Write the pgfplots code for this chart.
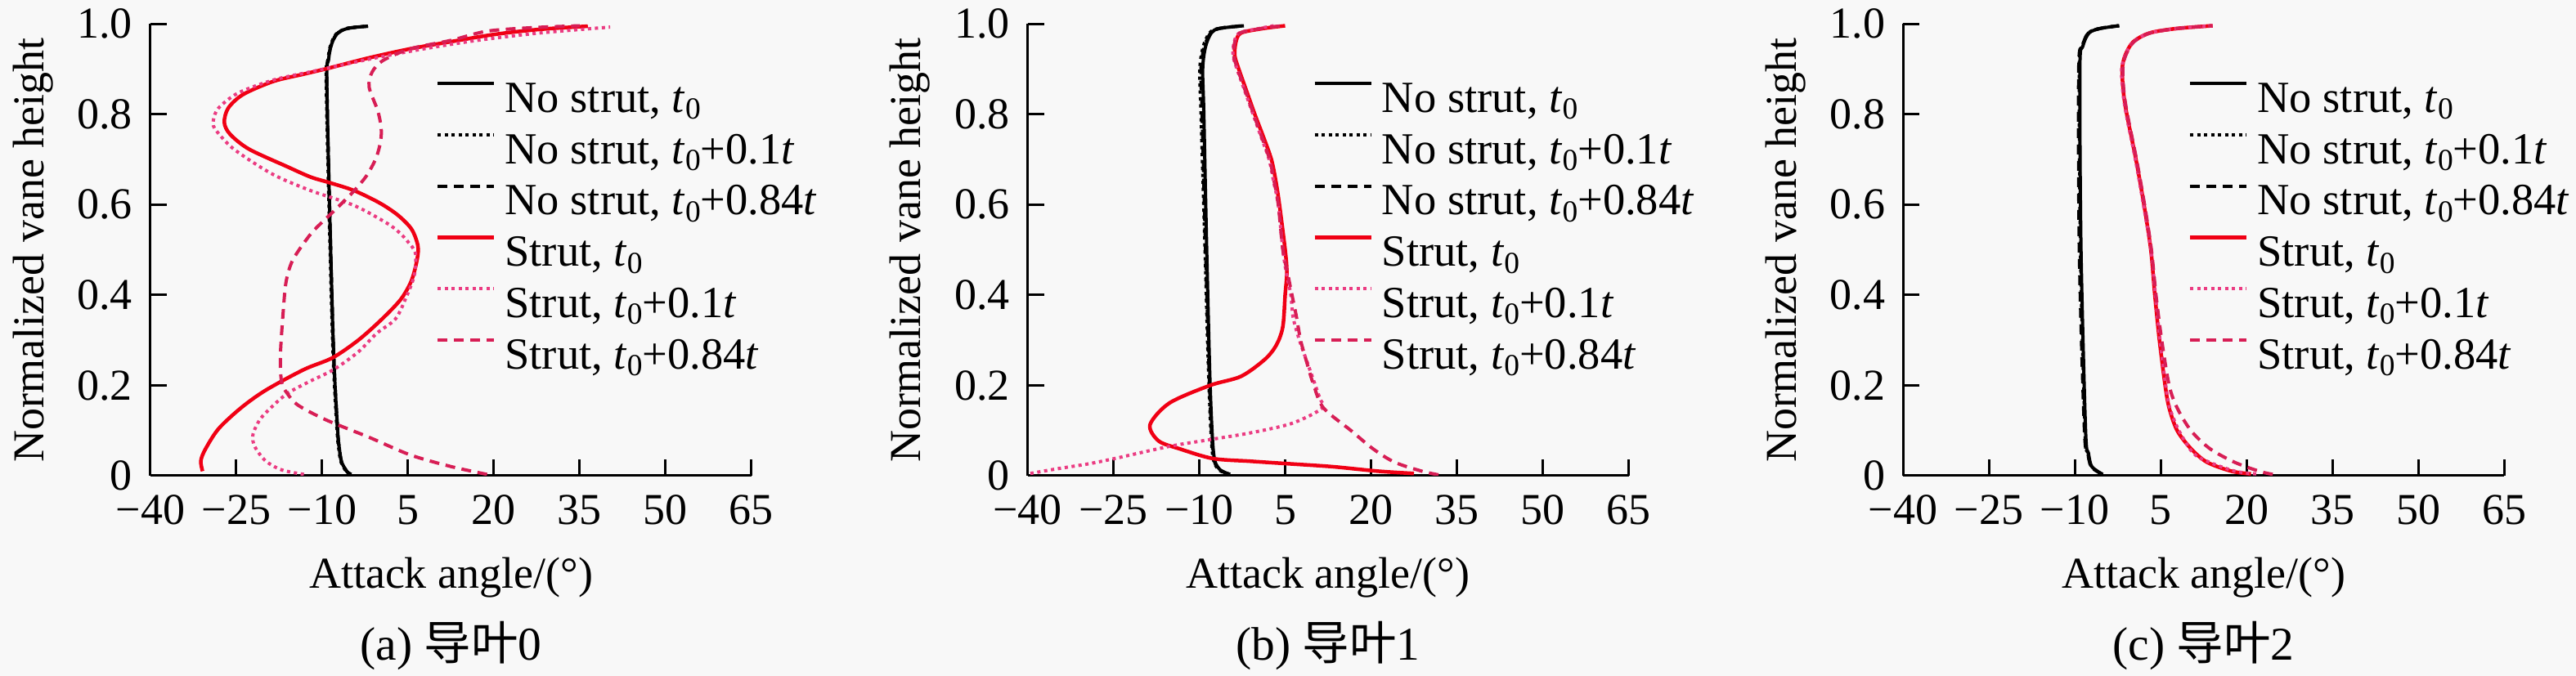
\documentclass[border=0pt]{standalone}
\usepackage{pgfplots}
\pgfplotsset{compat=1.18}
\usepackage{fontspec}
\setmainfont{Liberation Serif}
\newfontfamily\cjk{Noto Sans CJK SC}
\definecolor{bgc}{RGB}{248,248,248}
\definecolor{sred}{RGB}{240,0,20}
\definecolor{spink}{RGB}{235,60,130}
\definecolor{sdash}{RGB}{215,30,85}
\newcommand{\tz}{\textit{t}\raisebox{-1.7pt}{\fontsize{7.5}{8}\selectfont 0}}
\newcommand{\tzz}[1]{\tz+#1\textit{t}}
\pgfplotsset{
  vane/.style={
    scale only axis, width=147pt, height=110.54pt,
    xmin=-40, xmax=65, ymin=0, ymax=1,
    axis x line*=bottom, axis y line*=left,
    axis line style={-, line width=0.6pt, black},
    xtick={-40,-25,-10,5,20,35,50,65},
    ytick={0,0.2,0.4,0.6,0.8,1.0},
    xticklabels={−40,−25,−10,5,20,35,50,65},
    yticklabels={0,0.2,0.4,0.6,0.8,1.0},
    tick align=inside, major tick length=4pt,
    tick style={line width=0.6pt, black},
    tick label style={font=\fontsize{10.8}{12}\selectfont},
    xticklabel style={anchor=base, inner sep=0pt, yshift=-11.9pt},
    yticklabel style={anchor=east, inner sep=0pt, xshift=-4.2pt},
    every axis x label/.style={at={(axis description cs:0.5,-0.2497)}, anchor=base, font=\fontsize{10.8}{12}\selectfont},
    every axis y label/.style={at={(axis description cs:-0.1776,0.5)}, anchor=base, rotate=90, font=\fontsize{10.8}{12}\selectfont},
    every axis title/.style={at={(axis description cs:0.5,-0.4089)}, anchor=base, font=\fontsize{11.5}{13}\selectfont},
    xlabel={Attack angle/(°)},
    ylabel={Normalized vane height},
    legend style={draw=none, fill=none, inner sep=0pt, outer sep=0pt,
      at={(axis description cs:0.4748,0.877)}, anchor=north west,
      row sep=2pt, column sep=2.2pt,
      nodes={inner sep=0pt, text height=8pt, text depth=2.56pt, font=\fontsize{10.9}{12}\selectfont}},
    legend cell align=left,
    legend image code/.code={\draw[##1] (0pt,4.3pt) -- (13.8pt,4.3pt);},
    legend entries={{No strut, \tz},{No strut, \tzz{0.1}},{No strut, \tzz{0.84}},{Strut, \tz},{Strut, \tzz{0.1}},{Strut, \tzz{0.84}}},
  },
  ns0/.style={black, line width=0.8pt, smooth},
  ns1/.style={black, line width=0.8pt, smooth, dash pattern=on 0.8pt off 0.9pt},
  ns2/.style={black, line width=0.8pt, smooth, dash pattern=on 2.4pt off 1.6pt},
  s0/.style={sred, line width=0.9pt, smooth},
  s1/.style={spink, line width=0.8pt, smooth, dash pattern=on 0.8pt off 0.9pt},
  s2/.style={sdash, line width=0.8pt, smooth, dash pattern=on 2.4pt off 1.6pt},
}
\begin{document}
\begin{tikzpicture}
\useasboundingbox (0,0) rectangle (630pt,165.4pt);
\fill[bgc] (0,0) rectangle (630pt,165.4pt);
% ---------------- (a)
\begin{axis}[vane, at={(36.8pt,49pt)}, anchor=south west, title={(a) {\cjk 导叶}0}]
\addplot[ns0] coordinates {(-4.9,0.003) (-5.6,0.008) (-6.6,0.03) (-7.0,0.06) (-7.3,0.1) (-8.0,0.27) (-8.7,0.59) (-9.2,0.88) (-8.9,0.92) (-8.5,0.95) (-7.5,0.977) (-5.6,0.99) (-2.0,0.995)};
\addplot[ns1] coordinates {(-5.0,0.003) (-5.7,0.008) (-6.7,0.03) (-7.1,0.06) (-7.4,0.1) (-8.1,0.27) (-8.8,0.59) (-9.3,0.88) (-9.0,0.92) (-8.6,0.95) (-7.6,0.977) (-5.7,0.99) (-2.2,0.995)};
\addplot[ns2] coordinates {(-4.9,0.003) (-5.6,0.008) (-6.6,0.03) (-7.0,0.06) (-7.3,0.1) (-8.0,0.27) (-8.7,0.59) (-9.2,0.88) (-8.9,0.92) (-8.5,0.95) (-7.5,0.977) (-5.6,0.99) (-2.0,0.995)};
\addplot[s0] coordinates {(-30.9,0.01) (-31.2,0.033) (-30.4,0.059) (-28.1,0.104) (-24.2,0.15) (-19.9,0.189) (-13.2,0.235) (-8.2,0.261) (-3.7,0.30) (0.3,0.345) (3.7,0.39) (5.6,0.432) (6.6,0.48) (6.7,0.51) (5.6,0.546) (3.2,0.577) (0.0,0.604) (-4.4,0.631) (-8.8,0.649) (-12.0,0.661) (-16.1,0.684) (-22.8,0.723) (-26.1,0.756) (-27.1,0.782) (-26.4,0.814) (-23.8,0.844) (-18.5,0.873) (-13.2,0.889) (-8.9,0.902) (-1.8,0.925) (5.4,0.945) (12.6,0.961) (20.2,0.977) (28,0.988) (36.4,0.995)};
\addplot[s1] coordinates {(-13.2,0.003) (-17.1,0.013) (-19.9,0.033) (-21.8,0.065) (-22.1,0.091) (-20.9,0.124) (-19.0,0.15) (-16.1,0.182) (-12.3,0.208) (-8.0,0.235) (-3.7,0.274) (-0.5,0.315) (2.8,0.347) (4.7,0.396) (6.1,0.444) (6.3,0.492) (5.1,0.516) (3.5,0.538) (1.3,0.559) (-4.4,0.598) (-12.0,0.631) (-18.0,0.663) (-22.5,0.697) (-26.1,0.73) (-28.8,0.769) (-29.0,0.788) (-28.1,0.814) (-24.7,0.847) (-18.5,0.876) (-11.3,0.896) (-1.8,0.922) (7.8,0.945) (17.3,0.964) (28,0.98) (40.3,0.993)};
\addplot[s2] coordinates {(18.8,0.003) (12.6,0.02) (5.4,0.046) (-1.8,0.085) (-9.4,0.124) (-14.2,0.156) (-16.1,0.182) (-17.1,0.208) (-17.3,0.267) (-16.8,0.365) (-16.3,0.43) (-15.2,0.476) (-12.8,0.522) (-11.0,0.549) (-7.2,0.595) (-4.4,0.631) (-2.2,0.665) (-0.6,0.703) (0.2,0.74) (0.3,0.77) (-0.3,0.808) (-1.8,0.86) (-1.3,0.893) (0.6,0.919) (5.4,0.945) (12.6,0.964) (18.8,0.984) (27,0.992) (35,0.996)};
\end{axis}
% ---------------- (b)
\begin{axis}[vane, at={(251.3pt,49pt)}, anchor=south west, title={(b) {\cjk 导叶}1}]
\addplot[ns0] coordinates {(-4.6,0.003) (-6.5,0.015) (-7.5,0.05) (-8.1,0.2) (-8.7,0.5) (-9.2,0.8) (-9.4,0.9) (-8.9,0.95) (-7.9,0.98) (-6.5,0.99) (-2.2,0.996)};
\addplot[ns1] coordinates {(-4.8,0.003) (-6.7,0.015) (-7.7,0.05) (-8.3,0.2) (-9.0,0.5) (-9.7,0.8) (-9.9,0.9) (-9.3,0.95) (-8.2,0.98) (-6.6,0.99) (-2.5,0.996)};
\addplot[ns2] coordinates {(-4.7,0.003) (-6.6,0.015) (-7.6,0.05) (-8.2,0.2) (-8.9,0.5) (-9.5,0.8) (-9.7,0.9) (-9.1,0.95) (-8.0,0.98) (-6.5,0.99) (-2.3,0.996)};
\addplot[s0] coordinates {(27.5,0.005) (21.3,0.01) (13.3,0.02) (6.2,0.026) (-1.0,0.032) (-7.6,0.038) (-13.3,0.059) (-17.1,0.077) (-18.6,0.113) (-15.2,0.161) (-8.1,0.2) (-2.7,0.22) (1.5,0.258) (3.5,0.29) (4.6,0.33) (5.0,0.4) (5.3,0.45) (5.0,0.5) (4.0,0.6) (3.4,0.65) (2.6,0.7) (1.2,0.75) (-0.3,0.8) (-1.7,0.85) (-3.1,0.9) (-3.8,0.93) (-3.6,0.96) (-2.7,0.98) (1.2,0.99) (5.0,0.996)};
\addplot[s1] coordinates {(-39.5,0.005) (-35,0.015) (-29.5,0.026) (-24.8,0.038) (-15.2,0.065) (-8.1,0.08) (-1.0,0.095) (6.2,0.116) (11.4,0.149) (11.0,0.173) (10.0,0.21) (9.0,0.246) (7.5,0.3) (6.4,0.35) (6.0,0.4) (5.2,0.45) (4.6,0.5) (3.8,0.6) (3.0,0.65) (2.2,0.7) (0.8,0.75) (-0.6,0.8) (-2.0,0.85) (-3.4,0.9) (-4.1,0.93) (-3.9,0.96) (-3.0,0.98) (0.5,0.99) (3.0,0.996)};
\addplot[s2] coordinates {(31.8,0.002) (28.9,0.01) (24.1,0.03) (20.3,0.06) (16.5,0.1) (11.7,0.15) (10.0,0.2) (8.8,0.25) (7.7,0.3) (7.0,0.35) (6.2,0.4) (5.4,0.45) (4.6,0.5) (3.8,0.6) (3.1,0.65) (2.3,0.7) (0.9,0.75) (-0.5,0.8) (-1.9,0.85) (-3.3,0.9) (-4.0,0.93) (-3.8,0.96) (-2.9,0.98) (0.8,0.99) (4.5,0.996)};
\end{axis}
% ---------------- (c)
\begin{axis}[vane, at={(465.4pt,49pt)}, anchor=south west, title={(c) {\cjk 导叶}2}]
\addplot[ns0] coordinates {(-5.1,0.003) (-7.0,0.02) (-7.6,0.05) (-8.1,0.1) (-8.9,0.5) (-9.1,0.9) (-8.6,0.95) (-7.5,0.98) (-5.5,0.99) (-2.2,0.996)};
\addplot[ns1] coordinates {(-5.2,0.003) (-7.1,0.02) (-7.7,0.05) (-8.2,0.1) (-9.0,0.5) (-9.2,0.9) (-8.7,0.95) (-7.6,0.98) (-5.6,0.99) (-2.3,0.996)};
\addplot[ns2] coordinates {(-5.2,0.003) (-7.1,0.02) (-7.7,0.05) (-8.3,0.1) (-9.2,0.5) (-9.3,0.9) (-8.7,0.95) (-7.6,0.98) (-5.6,0.99) (-2.3,0.996)};
\addplot[s0] coordinates {(20.8,0.004) (17.4,0.01) (13.1,0.03) (10.3,0.06) (7.9,0.1) (6.5,0.15) (5.8,0.2) (4.8,0.3) (4.0,0.4) (3.3,0.5) (2.1,0.6) (0.7,0.7) (-0.9,0.8) (-1.5,0.85) (-1.7,0.9) (-1.2,0.93) (0.2,0.96) (3.1,0.98) (7.9,0.99) (14.1,0.996)};
\addplot[s1] coordinates {(21.7,0.004) (18.0,0.01) (13.5,0.03) (10.7,0.05) (8.2,0.1) (6.6,0.15) (5.9,0.2) (4.9,0.3) (4.1,0.4) (3.3,0.5) (2.0,0.6) (0.6,0.7) (-1.0,0.8) (-1.6,0.85) (-1.8,0.9) (-1.2,0.93) (0.2,0.96) (3.1,0.98) (7.9,0.99) (14.1,0.996)};
\addplot[s2] coordinates {(24.6,0.003) (22.2,0.01) (17.9,0.03) (13.6,0.06) (10.3,0.1) (7.9,0.15) (6.5,0.2) (5.2,0.3) (4.2,0.4) (3.4,0.5) (2.2,0.6) (0.8,0.7) (-0.8,0.8) (-1.4,0.85) (-1.6,0.9) (-1.1,0.93) (0.3,0.96) (3.2,0.98) (8.0,0.99) (14.1,0.996)};
\end{axis}
\end{tikzpicture}
\end{document}
